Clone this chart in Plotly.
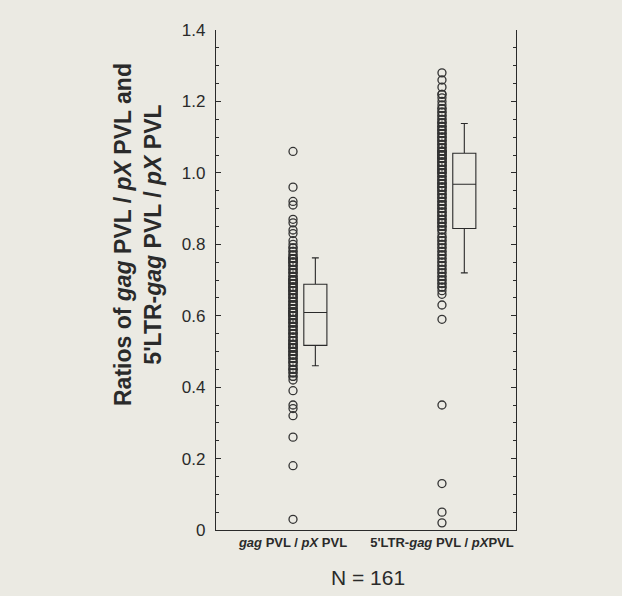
import plotly.graph_objects as go

# ---- data ----
categories = ["<b><i>gag</i> PVL / <i>pX</i> PVL</b>", "<b>5'LTR-<i>gag</i> PVL / <i>pX</i>PVL</b>"]

gag_ratio = [
    0.03, 0.18, 0.26, 0.32, 0.34, 0.35, 0.39, 0.42, 0.43, 0.43, 0.44, 0.44, 0.45, 0.45, 0.45, 0.46,
    0.46, 0.47, 0.47, 0.47, 0.48, 0.48, 0.48, 0.49, 0.49, 0.49, 0.49, 0.50, 0.50, 0.50, 0.50, 0.51,
    0.51, 0.51, 0.51, 0.51, 0.52, 0.52, 0.52, 0.52,
    0.52, 0.53, 0.53, 0.53, 0.53, 0.54, 0.54, 0.54, 0.55, 0.55, 0.55, 0.55, 0.56, 0.56, 0.56, 0.57,
    0.57, 0.57, 0.57, 0.58, 0.58, 0.58, 0.58, 0.59, 0.59, 0.59, 0.59, 0.60, 0.60, 0.60, 0.60, 0.60,
    0.61, 0.61, 0.61, 0.61, 0.61, 0.61, 0.61, 0.61, 0.61,
    0.61, 0.62, 0.62, 0.62, 0.62, 0.63, 0.63, 0.63, 0.63, 0.64, 0.64, 0.64, 0.64, 0.65, 0.65, 0.65,
    0.65, 0.66, 0.66, 0.66, 0.66, 0.67, 0.67, 0.67, 0.67, 0.67, 0.68, 0.68, 0.68, 0.68, 0.68, 0.69,
    0.69, 0.69, 0.69, 0.69, 0.70, 0.70, 0.70, 0.70,
    0.70, 0.70, 0.71, 0.71, 0.71, 0.72, 0.72, 0.72, 0.73, 0.73, 0.73, 0.74, 0.74, 0.74, 0.75, 0.75,
    0.75, 0.75, 0.76, 0.76, 0.76, 0.76, 0.76, 0.76,
    0.77, 0.77, 0.78, 0.78, 0.79, 0.79, 0.80, 0.81, 0.83, 0.84, 0.86, 0.87, 0.91, 0.92, 0.96, 1.06,
]

ltr_gag_ratio = [
    0.02, 0.05, 0.13, 0.35, 0.59, 0.63, 0.66, 0.67, 0.68, 0.68, 0.69, 0.69, 0.70, 0.70, 0.71, 0.71,
    0.72, 0.72, 0.73, 0.73, 0.74, 0.74, 0.75, 0.75, 0.76, 0.76, 0.77, 0.77, 0.78, 0.78, 0.79, 0.79,
    0.80, 0.80, 0.81, 0.81, 0.82, 0.82, 0.83, 0.84,
    0.84, 0.85, 0.85, 0.85, 0.86, 0.86, 0.86, 0.87, 0.87, 0.87, 0.88, 0.88, 0.88, 0.89, 0.89, 0.89,
    0.90, 0.90, 0.90, 0.91, 0.91, 0.91, 0.92, 0.92, 0.92, 0.93, 0.93, 0.93, 0.94, 0.94, 0.94, 0.95,
    0.95, 0.95, 0.96, 0.96, 0.96, 0.96, 0.97, 0.97,
    0.97,
    0.97, 0.98, 0.98, 0.98, 0.99, 0.99, 0.99, 1.00, 1.00, 1.00, 1.00, 1.01, 1.01, 1.01, 1.01, 1.02,
    1.02, 1.02, 1.02, 1.03, 1.03, 1.03, 1.03, 1.04, 1.04, 1.04, 1.04, 1.04, 1.05, 1.05, 1.05, 1.05,
    1.05, 1.06, 1.06, 1.06, 1.06, 1.06, 1.06, 1.06,
    1.07, 1.07, 1.07, 1.08, 1.08, 1.08, 1.09, 1.09, 1.09, 1.10, 1.10, 1.10, 1.11, 1.11, 1.11, 1.12,
    1.12, 1.12, 1.13, 1.13, 1.13, 1.14, 1.14, 1.14,
    1.15, 1.15, 1.16, 1.16, 1.17, 1.17, 1.18, 1.18, 1.19, 1.20, 1.21, 1.22, 1.22, 1.24, 1.26, 1.28,
]

# box summaries (10th / 25th / 50th / 75th / 90th percentiles)
box_p10 = [0.46, 0.72]
box_q1 = [0.517, 0.844]
box_median = [0.609, 0.968]
box_q3 = [0.688, 1.055]
box_p90 = [0.762, 1.138]

y_ticks = [0, 0.2, 0.4, 0.6, 0.8, 1.0, 1.2, 1.4]
y_ticktext = ["0", "0.2", "0.4", "0.6", "0.8", "1.0", "1.2", "1.4"]

# ---- style ----
BG = "#ebeae3"
INK = "#2a2a2a"
FONT = "Arial, Liberation Sans, sans-serif"
cat_pos = [1, 2]
box_offset = 0.15

fig = go.Figure()

for pos, vals in zip(cat_pos, [gag_ratio, ltr_gag_ratio]):
    fig.add_trace(go.Scatter(
        x=[pos] * len(vals), y=vals, mode="markers",
        marker=dict(symbol="circle-open", size=8, color="#333333", line=dict(width=1.3)),
        showlegend=False, hoverinfo="y",
    ))

fig.add_trace(go.Box(
    x=[p + box_offset for p in cat_pos],
    q1=box_q1, median=box_median, q3=box_q3,
    lowerfence=box_p10, upperfence=box_p90,
    width=0.155, whiskerwidth=0.3,
    fillcolor="rgba(0,0,0,0)", line=dict(color=INK, width=1.1),
    boxpoints=False, showlegend=False,
))

# invisible trace to activate right axis
fig.add_trace(go.Scatter(x=[1], y=[0], yaxis="y2", mode="markers",
                         marker=dict(opacity=0), showlegend=False, hoverinfo="skip"))

fig.update_layout(
    width=622, height=596,
    margin=dict(l=216, r=106, t=30, b=66),
    paper_bgcolor=BG, plot_bgcolor=BG,
    font=dict(family=FONT, color=INK),
    xaxis=dict(
        range=[0.483, 2.497], tickvals=cat_pos, ticktext=categories,
        showline=True, linecolor=INK, linewidth=1.3, ticks="",
        showgrid=False, zeroline=False, tickfont=dict(size=13, color=INK),
    ),
    yaxis=dict(
        range=[0, 1.4], tickvals=y_ticks, ticktext=y_ticktext,
        showline=True, linecolor=INK, linewidth=1.3,
        ticks="inside", ticklen=5, tickcolor=INK, tickwidth=1,
        minor=dict(dtick=0.05, ticks="inside", ticklen=3, tickcolor=INK, showgrid=False),
        showgrid=False, zeroline=False, tickfont=dict(size=17, color=INK),
        ticklabelstandoff=6,
    ),
    yaxis2=dict(
        range=[0, 1.4], overlaying="y", side="right", anchor="x",
        tickvals=y_ticks, showticklabels=False,
        showline=True, linecolor=INK, linewidth=1.3,
        ticks="inside", ticklen=5, tickcolor=INK, tickwidth=1,
        minor=dict(dtick=0.05, ticks="inside", ticklen=3, tickcolor=INK, showgrid=False),
        showgrid=False, zeroline=False,
    ),
    annotations=[
        dict(
            text="<b>Ratios of <i>gag</i> PVL / <i>pX</i> PVL and<br>5'LTR-<i>gag</i> PVL / <i>pX</i> PVL</b>",
            xref="paper", yref="paper", x=-0.26, y=0.59,
            xanchor="center", yanchor="middle", textangle=-90, showarrow=False,
            font=dict(size=23, color=INK, family=FONT),
        ),
        dict(
            text="N = 161", xref="paper", yref="paper", x=0.507, y=-0.094,
            xanchor="center", yanchor="middle", showarrow=False,
            font=dict(size=21, color=INK, family=FONT),
        ),
    ],
)

fig.write_html(
    "out.html",
    config={"displayModeBar": False},
    post_script="document.body.style.margin='0';document.body.style.overflow='hidden';"
                "document.documentElement.style.overflow='hidden';",
)
